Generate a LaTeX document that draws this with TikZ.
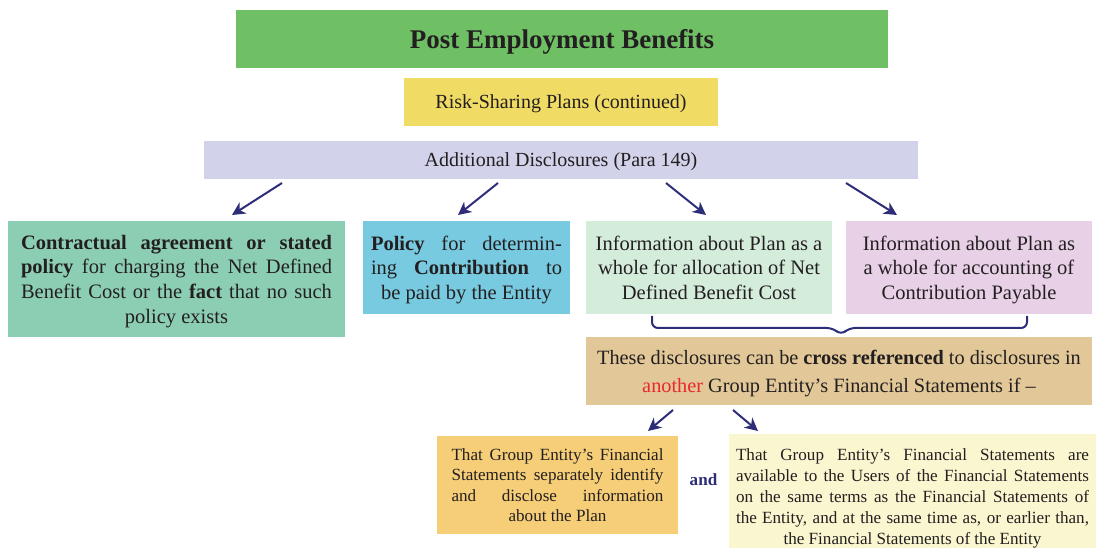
\documentclass[tikz,border=0pt]{standalone}
\usepackage{fontspec}
\setmainfont{Liberation Serif}
\usetikzlibrary{arrows.meta,calc}
\definecolor{titlegreen}{RGB}{111,191,101}
\definecolor{riskyellow}{RGB}{240,219,100}
\definecolor{disclavender}{RGB}{210,210,234}
\definecolor{agreeteal}{RGB}{140,206,180}
\definecolor{policycyan}{RGB}{120,202,224}
\definecolor{allocgreen}{RGB}{212,236,218}
\definecolor{accountpink}{RGB}{232,208,230}
\definecolor{crosstan}{RGB}{226,200,152}
\definecolor{separateorange}{RGB}{246,206,120}
\definecolor{availcream}{RGB}{250,246,208}
\definecolor{arrownavy}{RGB}{45,45,120}
\definecolor{anotherred}{RGB}{232,40,44}
\definecolor{inkgray}{RGB}{35,31,32}
% one justified line spread over a given width
\newlength{\spreadwidth}
\newcommand{\spreadline}[1]{%
  \makebox[\spreadwidth][s]{\spaceskip=.25em plus .6em minus .06em\relax#1}}
\tikzset{
  plainbox/.style={
    rectangle,
    inner sep=0pt,
    text=inkgray,
    align=center,
    text depth=0pt
  },
  spreadbox/.style={
    plainbox,
    execute at begin node={\global\spreadwidth=#1\relax}
  },
  midfont/.style={font=\fontsize{20.5}{24.7}\selectfont},
  smallfont/.style={font=\fontsize{17.1}{20.4}\selectfont},
  flowarrow/.style={
    draw=arrownavy,
    line width=2pt,
    -{Stealth[length=13pt,width=13pt,inset=4pt]}
  },
  bracepath/.style={
    draw=arrownavy,
    line width=2pt,
    rounded corners=6pt
  }
}

\begin{document}
\begin{tikzpicture}[x=1pt,y=-1pt]

  \useasboundingbox (0,0) rectangle (1096,548);

  % Heading boxes.
  \node[plainbox,fill=titlegreen,minimum width=652,minimum height=58,
    font=\fontsize{27}{32}\selectfont\bfseries] (title) at (562,39)
    {Post Employment Benefits};
  \node[plainbox,fill=riskyellow,minimum width=314,minimum height=48,
    font=\fontsize{20}{24}\selectfont] (riskshare) at (561,102)
    {Risk-Sharing Plans (continued)};
  \node[plainbox,fill=disclavender,minimum width=714,minimum height=38,
    font=\fontsize{20}{24}\selectfont] (adddisc) at (561,160)
    {Additional Disclosures (Para 149)};

  % Four kinds of additional disclosure.
  \node[spreadbox=311pt,midfont,fill=agreeteal,minimum width=337,
    minimum height=116] (agreement) at (176.5,279)
    {\spreadline{\textbf{Contractual agreement or stated}}\\
     \spreadline{\textbf{policy} for charging the Net Defined}\\
     \spreadline{Benefit Cost or the \textbf{fact} that no such}\\
     policy exists};
  \node[spreadbox=191pt,midfont,fill=policycyan,minimum width=207,
    minimum height=93] (contribpolicy) at (466.5,267.5)
    {\spreadline{\textbf{Policy} for determin-}\\
     \spreadline{ing \textbf{Contribution} to}\\
     be paid by the Entity};
  \node[plainbox,midfont,fill=allocgreen,minimum width=246,
    minimum height=93] (allocation) at (709,267.5)
    {Information about Plan as a\\whole for allocation of Net\\
     Defined Benefit Cost};
  \node[plainbox,midfont,fill=accountpink,minimum width=246,
    minimum height=93] (accounting) at (969,267.5)
    {Information about Plan as\\a whole for accounting of\\
     Contribution Payable};

  % Cross referencing condition.
  \node[plainbox,fill=crosstan,minimum width=506,minimum height=68,
    font=\fontsize{20.3}{28}\selectfont] (crossref) at (839,371)
    {These disclosures can be \textbf{cross referenced} to disclosures in\\
     \textcolor{anotherred}{another} Group Entity’s Financial Statements if --};

  \node[spreadbox=212pt,smallfont,fill=separateorange,minimum width=241,
    minimum height=98] (separate) at (557.5,485)
    {\spreadline{That Group Entity’s Financial}\\
     \spreadline{Statements separately identify}\\
     \spreadline{and disclose information}\\
     about the Plan};
  % the strut on the first line lowers the text a little in its box
  \node[spreadbox=353pt,font=\fontsize{17.1}{21}\selectfont,
    fill=availcream,minimum width=367,minimum height=114]
    (available) at (912.5,491)
    {\rule{0pt}{22pt}\spreadline{That Group Entity’s Financial Statements are}\\
     \spreadline{available to the Users of the Financial Statements}\\
     \spreadline{on the same terms as the Financial Statements of}\\
     \spreadline{the Entity, and at the same time as, or earlier than,}\\
     the Financial Statements of the Entity};
  \node[font=\fontsize{17.1}{20}\selectfont\bfseries,text=arrownavy]
    (andword) at (703.5,480) {and};

  % Arrow end points.
  \coordinate (agreefrom) at (282,183);
  \coordinate (agreeto)   at (232,215);
  \coordinate (policyfrom) at (498,183);
  \coordinate (policyto)   at (458,215);
  \coordinate (allocfrom) at (666,183);
  \coordinate (allocto)   at (706,215);
  \coordinate (accfrom) at (846,183);
  \coordinate (accto)   at (897,215);
  \coordinate (sepfrom) at (673,410);
  \coordinate (septo)   at (648,431);
  \coordinate (availfrom) at (733,410);
  \coordinate (availto)   at (758,431);

  \draw[flowarrow] (agreefrom) -- (agreeto);
  \draw[flowarrow] (policyfrom) -- (policyto);
  \draw[flowarrow] (allocfrom) -- (allocto);
  \draw[flowarrow] (accfrom) -- (accto);
  \draw[flowarrow] (sepfrom) -- (septo);
  \draw[flowarrow] (availfrom) -- (availto);

  % Brace under the two information boxes.
  \coordinate (braceleft)  at (652,316);
  \coordinate (braceright) at (1027,316);
  \coordinate (bracetip)   at (841,335);
  \draw[bracepath] (braceleft) -- (652,328) -- (833,328) -- (bracetip)
    -- (849,328) -- (1027,328) -- (braceright);

\end{tikzpicture}
\end{document}
